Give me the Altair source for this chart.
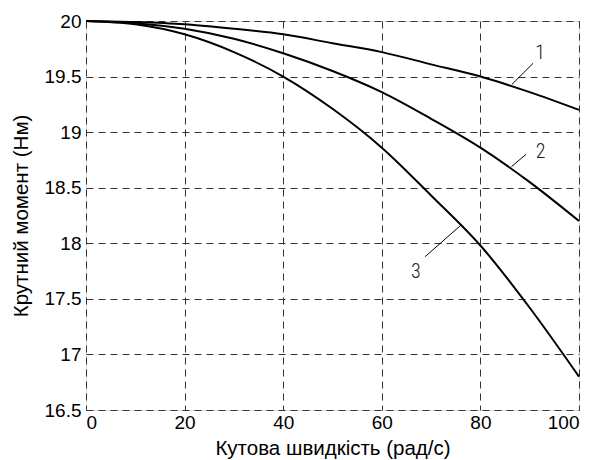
import altair as alt
import pandas as pd

# Angular speed (rad/s)
speed = [0, 10, 20, 30, 40, 50, 60, 70, 80, 90, 100]
# Torque (N·m) for the three curves
torque_1 = [20.0, 19.99, 19.97, 19.93, 19.88, 19.80, 19.72, 19.61, 19.50, 19.36, 19.20]
torque_2 = [20.0, 19.98, 19.93, 19.84, 19.71, 19.55, 19.36, 19.12, 18.86, 18.55, 18.20]
torque_3 = [20.0, 19.97, 19.88, 19.72, 19.50, 19.21, 18.86, 18.43, 17.98, 17.42, 16.80]

x_ticks = [0, 20, 40, 60, 80, 100]
y_ticks = [16.5, 17, 17.5, 18, 18.5, 19, 19.5, 20]

# Curve annotations (data coordinates)
curve_labels = ["1", "2", "3"]
label_x = [92.1, 92.2, 66.9]
label_y = [19.71, 18.82, 17.74]
leader_x1 = [86.4, 86.3, 68.8]
leader_y1 = [19.43, 18.69, 17.88]
leader_x2 = [90.7, 89.25, 76.1]
leader_y2 = [19.62, 18.80, 18.165]

rows = []
for name, ys in (("1", torque_1), ("2", torque_2), ("3", torque_3)):
    for xv, yv in zip(speed, ys):
        rows.append({"curve": name, "speed": xv, "torque": yv})
df = pd.DataFrame(rows)

ann = pd.DataFrame({
    "label": curve_labels, "lx": label_x, "ly": label_y,
    "x1": leader_x1, "y1": leader_y1, "x2": leader_x2, "y2": leader_y2,
})

FONT = "Liberation Sans, Arial, sans-serif"

xscale = alt.Scale(domain=[0, 100], nice=False, zero=False)
yscale = alt.Scale(domain=[16.5, 20], nice=False, zero=False)

xaxis = alt.Axis(
    title="Кутова швидкість (рад/с)", values=x_ticks, grid=True,
    gridDash=[7, 5], gridColor="#333333", gridWidth=1, gridOpacity=1,
    ticks=False, domain=False, labelPadding=3, labelFontSize=19,
    labelFont=FONT, labelColor="black", titleFont=FONT, titleFontSize=20.5,
    titleFontWeight="normal", titleColor="black", titleY=38,
    titleBaseline="middle",
)
yaxis = alt.Axis(
    title="Крутний момент (Нм)", values=y_ticks, format="~g", grid=True,
    gridDash=[7, 5], gridColor="#333333", gridWidth=1, gridOpacity=1,
    ticks=False, domain=False, labelPadding=5, labelFontSize=19,
    labelFont=FONT, labelColor="black", titleFont=FONT, titleFontSize=20.5,
    titleFontWeight="normal", titleColor="black", titleX=-65, titleY=194.5,
    titleAngle=-90, titleAlign="center", titleBaseline="middle",
)

lines = alt.Chart(df).mark_line(
    color="black", strokeWidth=2, interpolate="monotone"
).encode(
    x=alt.X("speed:Q", scale=xscale, axis=xaxis),
    y=alt.Y("torque:Q", scale=yscale, axis=yaxis),
    detail="curve:N",
)

leaders = alt.Chart(ann).mark_rule(color="black", strokeWidth=1).encode(
    x=alt.X("x1:Q", scale=xscale), y=alt.Y("y1:Q", scale=yscale),
    x2="x2:Q", y2="y2:Q",
)

labels = alt.Chart(ann).mark_text(
    font="Roboto Condensed, Roboto, sans-serif", fontWeight=300,
    fontSize=20, color="#222222", align="center", baseline="middle",
).encode(
    x=alt.X("lx:Q", scale=xscale), y=alt.Y("ly:Q", scale=yscale), text="label:N",
)

chart = alt.layer(lines, leaders, labels).properties(
    width=493, height=389,
    autosize=alt.AutoSizeParams(type="none"),
    padding={"left": 78, "top": 13, "right": 20, "bottom": 50},
).configure_view(stroke="black", strokeWidth=1).configure(background="white")

chart.save("out.html", embed_options={"renderer": "svg", "actions": False})
